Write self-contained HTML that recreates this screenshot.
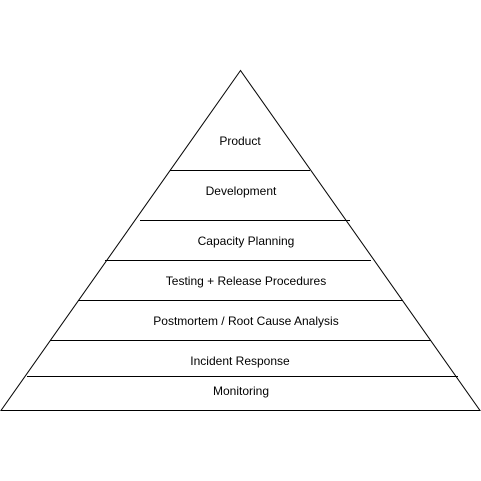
<!DOCTYPE html>
<html><head><style>body{margin:0;background:#fff}svg{display:block}text{font-family:"Liberation Sans",Arial,sans-serif;font-size:12px;fill:#000}</style></head>
<body><svg width="481" height="481" viewBox="0 0 481 481">
<rect width="481" height="481" fill="#fff"/>
<g stroke="#000" stroke-width="1" fill="none">
<polygon points="240.5,70.5 1,410.5 480,410.5"/>
<line x1="170" y1="170.5" x2="310" y2="170.5"/>
<line x1="140" y1="220.5" x2="350" y2="220.5"/>
<line x1="105" y1="260.5" x2="371" y2="260.5"/>
<line x1="78" y1="300.5" x2="403" y2="300.5"/>
<line x1="50" y1="340.5" x2="431" y2="340.5"/>
<line x1="27" y1="376.5" x2="458" y2="376.5"/>
</g>
<g text-anchor="middle">
<text x="240" y="145">Product</text>
<text x="241" y="195">Development</text>
<text x="246" y="245">Capacity Planning</text>
<text x="246" y="285">Testing + Release Procedures</text>
<text x="246" y="325">Postmortem / Root Cause Analysis</text>
<text x="240" y="365">Incident Response</text>
<text x="241" y="395">Monitoring</text>
</g>
</svg></body></html>
